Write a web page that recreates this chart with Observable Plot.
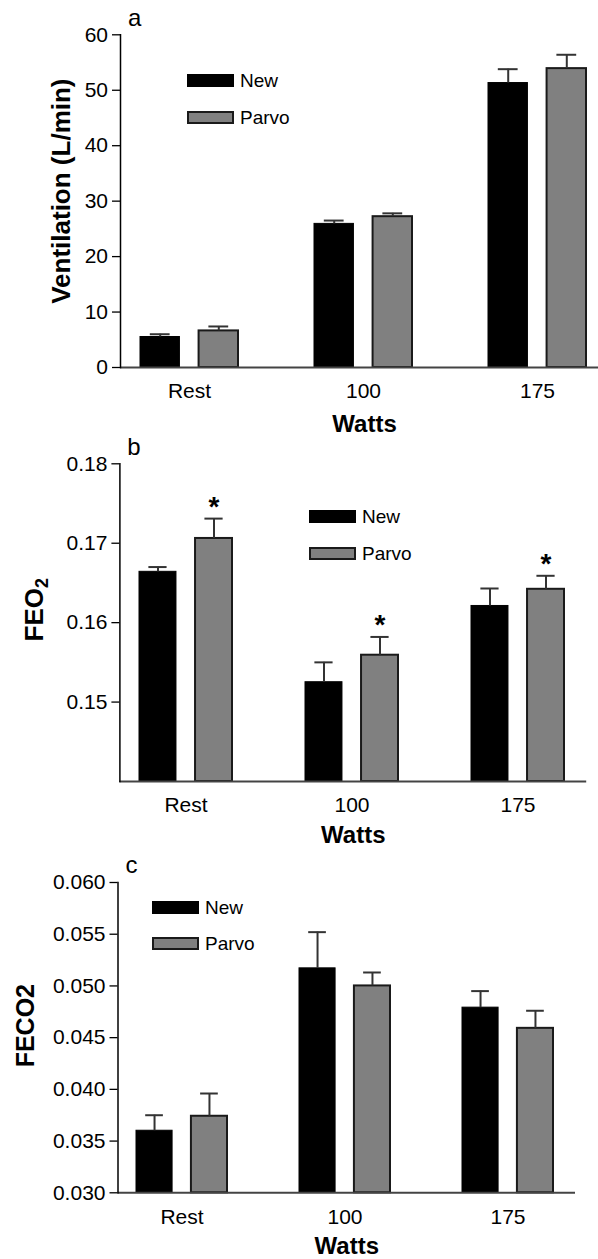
<!DOCTYPE html>
<html><head><meta charset="utf-8">
<script src="https://cdn.jsdelivr.net/npm/d3@7"></script>
<script src="https://cdn.jsdelivr.net/npm/@observablehq/plot@0.6"></script>
<style>
html,body{margin:0;padding:0;background:#fff;overflow:hidden;}
#root{position:relative;width:598px;height:1259px;overflow:hidden;font-family:"Liberation Sans",Arial,sans-serif;background:#fff;}
.panel{position:absolute;left:0;}
.panel svg{max-width:none !important;display:block;}
.item{position:absolute;display:flex;align-items:center;font-size:19px;line-height:1;color:#000;}
.sw{box-sizing:border-box;width:47px;height:13px;margin-right:6px;}
</style></head><body><div id="root"></div>
<script>
// ---- data ----
const groups = ["Rest", "100", "175"];
const series = ["New", "Parvo"];
const seriesFill = ["#000000", "#808080"];

const ventNew = [5.5, 25.9, 51.3];
const ventNewErr = [0.5, 0.6, 2.5];
const ventParvo = [6.6, 27.2, 53.9];
const ventParvoErr = [0.8, 0.6, 2.5];
const ventTicks = [0, 10, 20, 30, 40, 50, 60];

const feo2New = [0.1664, 0.1525, 0.1621];
const feo2NewErr = [0.0006, 0.0025, 0.0022];
const feo2Parvo = [0.1706, 0.1559, 0.1642];
const feo2ParvoErr = [0.0025, 0.0023, 0.0017];
const feo2Sig = [true, true, true];
const feo2Ticks = [0.15, 0.16, 0.17, 0.18];

const feco2New = [0.0360, 0.0517, 0.0479];
const feco2NewErr = [0.0015, 0.0035, 0.0016];
const feco2Parvo = [0.0374, 0.0500, 0.0459];
const feco2ParvoErr = [0.0022, 0.0013, 0.0017];
const feco2Ticks = [0.030, 0.035, 0.040, 0.045, 0.050, 0.055, 0.060];

const FONT = '"Liberation Sans", Arial, sans-serif';
const root = document.getElementById("root");

function panel(o) {
  const width = Math.ceil(o.right) + 2;
  const mr = width - o.right;
  const pi = 0.439, po = 0.119, align = 0.47;
  const step = (o.right - o.ml) / (3 - pi + 2 * po);
  const gw = step * (1 - pi), bw = step * 0.225, cw = bw * 0.5;
  const off = gw / 2 - bw / 2;
  const y0 = o.domain[0];
  const rows = groups.map((g, i) => ({
    group: g, New: o.newV[i], NewErr: o.newE[i], Parvo: o.parV[i], ParvoErr: o.parE[i],
    sig: o.sig ? o.sig[i] : false
  }));
  const marks = [
    Plot.barY(rows, {x: "group", y1: () => y0, y2: "New", fill: seriesFill[0], stroke: "#000", strokeWidth: 1, insetRight: gw - bw}),
    Plot.barY(rows, {x: "group", y1: () => y0, y2: "Parvo", fill: seriesFill[1], stroke: "#1a1a1a", strokeWidth: 2, insetLeft: gw - bw}),
    Plot.ruleX(rows, {x: "group", y1: "New", y2: d => d.New + d.NewErr, dx: -off, stroke: "#333", strokeWidth: 2}),
    Plot.ruleX(rows, {x: "group", y1: "Parvo", y2: d => d.Parvo + d.ParvoErr, dx: off, stroke: "#333", strokeWidth: 2}),
    Plot.tickY(rows, {x: "group", y: d => d.New + d.NewErr, insetLeft: bw / 2 - cw / 2, insetRight: gw - bw / 2 - cw / 2, stroke: "#333", strokeWidth: 2}),
    Plot.tickY(rows, {x: "group", y: d => d.Parvo + d.ParvoErr, insetLeft: gw - bw / 2 - cw / 2, insetRight: bw / 2 - cw / 2, stroke: "#333", strokeWidth: 2}),
    Plot.ruleY([y0], {stroke: "#444", strokeWidth: 2}),
    Plot.frame({anchor: "left", stroke: "#000", strokeWidth: 1.5}),
    Plot.axisX({tickSize: 0, tickPadding: 16, fontSize: 21, label: null}),
    Plot.axisY({ticks: o.ticks, tickFormat: o.fmt, tickSize: 8, tickPadding: 4.5, fontSize: 21, label: null, strokeWidth: 1.3}),
    Plot.text(["Watts"], {frameAnchor: "bottom", textAnchor: "middle", lineAnchor: "bottom", dy: o.wattsDy, fontSize: 24, fontWeight: "bold", text: d => d}),
    Plot.text([o.ylabel], {frameAnchor: "left", textAnchor: "middle", lineAnchor: "middle", rotate: -90, dx: o.ylDx, dy: o.ylDy, fontSize: o.ylSize, fontWeight: "bold", text: d => d}),
    Plot.text([o.letter], {frameAnchor: "top-left", textAnchor: "start", lineAnchor: "bottom", dx: o.letDx, dy: o.letDy, fontSize: 24, text: d => d})
  ];
  if (o.sig) {
    marks.push(Plot.text(rows.filter(d => d.sig), {x: "group", y: d => d.Parvo + d.ParvoErr, text: () => "*", dx: off, dy: -3, lineAnchor: "bottom", textAnchor: "middle", fontSize: 28, fontWeight: "bold"}));
  }
  const chart = Plot.plot({
    width, height: o.height,
    marginLeft: o.ml, marginRight: mr, marginTop: o.mt, marginBottom: o.height - o.bottom,
    style: {fontFamily: FONT, fontSize: "21px", color: "#000", background: "#fff", overflow: "visible"},
    x: {type: "band", domain: groups, paddingInner: pi, paddingOuter: po, align},
    y: {domain: o.domain},
    marks
  });
  // subscript for the y label (e.g. FEO2 -> FEO with subscript 2)
  if (o.ylSub) {
    chart.querySelectorAll("text").forEach(t => {
      if (t.textContent === o.ylabel) {
        const main = o.ylabel.slice(0, -o.ylSub.length);
        t.textContent = main;
        const ts = document.createElementNS("http://www.w3.org/2000/svg", "tspan");
        ts.setAttribute("font-size", "18");
        ts.setAttribute("dy", "0.28em");
        ts.textContent = o.ylSub;
        t.appendChild(ts);
      }
    });
  }
  const div = document.createElement("div");
  div.className = "panel";
  div.style.top = o.top + "px";
  div.appendChild(chart);
  root.appendChild(div);
  // legend
  series.forEach((s, i) => {
    const it = document.createElement("div");
    it.className = "item";
    it.style.left = o.legX + "px";
    it.style.top = (o.top + o.legY[i]) + "px";
    const sw = document.createElement("div");
    sw.className = "sw";
    sw.style.background = seriesFill[i];
    sw.style.border = i === 0 ? "none" : "2px solid #1a1a1a";
    const tx = document.createElement("span");
    tx.textContent = s;
    it.appendChild(sw);
    it.appendChild(tx);
    root.appendChild(it);
  });
}

panel({top: 0, height: 434, ml: 120, right: 608, mt: 34.3, bottom: 367,
  domain: [0, 60], ticks: ventTicks, fmt: d3.format("d"),
  newV: ventNew, newE: ventNewErr, parV: ventParvo, parE: ventParvoErr, sig: null,
  ylabel: "Ventilation (L/min)", ylDx: -59, ylDy: -10, ylSize: 26, wattsDy: 64,
  letter: "a", letDx: 7.5, letDy: -9, legX: 187, legY: [70.5, 108]});

panel({top: 434, height: 420, ml: 119.4, right: 586.2, mt: 29.3, bottom: 347,
  domain: [0.14, 0.18], ticks: feo2Ticks, fmt: d3.format(".2f"),
  newV: feo2New, newE: feo2NewErr, parV: feo2Parvo, parE: feo2ParvoErr, sig: feo2Sig,
  ylabel: "FEO2", ylSub: "2", ylDx: -85, ylDy: -13, ylSize: 26, wattsDy: 61,
  letter: "b", letDx: 7.3, letDy: -9, legX: 309, legY: [73.3, 110]});

panel({top: 854, height: 405, ml: 117.5, right: 575, mt: 28, bottom: 338.3,
  domain: [0.03, 0.06], ticks: feco2Ticks, fmt: d3.format(".3f"),
  newV: feco2New, newE: feco2NewErr, parV: feco2Parvo, parE: feco2ParvoErr, sig: null,
  ylabel: "FECO2", ylDx: -91.7, ylDy: -12, ylSize: 25, wattsDy: 60.7,
  letter: "c", letDx: 7.5, letDy: -10, legX: 152, legY: [44.3, 80]});
</script></body></html>
